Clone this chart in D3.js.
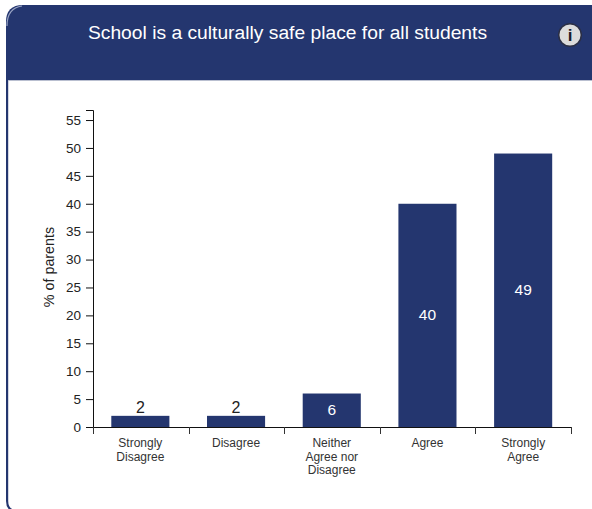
<!DOCTYPE html>
<html><head><meta charset="utf-8">
<script src="https://cdn.jsdelivr.net/npm/d3@7/dist/d3.min.js"></script>
<style>html,body{margin:0;padding:0;background:#fff;overflow:hidden}svg{display:block}text{font-family:"Liberation Sans",Arial,sans-serif}</style>
</head><body><svg id="c" width="592" height="509"></svg>
<script>
const categories=[["Strongly","Disagree"],["Disagree"],["Neither","Agree nor","Disagree"],["Agree"],["Strongly","Agree"]];
const values=[2,2,6,40,49];
const yTicks=[0,5,10,15,20,25,30,35,40,45,50,55];
const title="School is a culturally safe place for all students";
const yLabel="% of parents";
const navy="#24366f";
const svg=d3.select("#c");
svg.append("path").attr("fill","none").attr("stroke",navy).attr("stroke-width",2.2)
 .attr("d","M7.1 20V501Q7.1 509 14 511");
svg.append("path").attr("fill",navy)
 .attr("d","M6 80V22Q6 5 23 5H592V80Z");
svg.append("path").attr("fill","none").attr("stroke","#9aa5c4").attr("stroke-width",1.2).attr("d","M7 26Q7 8 22 6");
svg.append("line").attr("x1",8).attr("x2",592).attr("y1",80.5).attr("y2",80.5).attr("stroke","#b9bfd0").attr("stroke-width",1);
svg.append("text").attr("x",287.5).attr("y",39).attr("text-anchor","middle").attr("font-size",19.25).attr("fill","#fff").text(title);
svg.append("circle").attr("cx",570).attr("cy",35).attr("r",11.3).attr("fill","#dcdcdc").attr("stroke","#2b2f45").attr("stroke-width",1.5);
svg.append("text").attr("x",570).attr("y",41).attr("text-anchor","middle").attr("font-size",17).attr("font-weight","bold").attr("fill","#1b1b2a").text("i");

const x=d3.scaleBand().domain(d3.range(values.length)).range([92.5,571]).paddingInner(0.393).paddingOuter(0.1965);
const y=d3.scaleLinear().domain([0,56.8]).range([427,110]);
const g=svg.append("g");
g.selectAll("rect").data(values).join("rect")
 .attr("x",(d,i)=>x(i)).attr("width",x.bandwidth())
 .attr("y",d=>y(d)).attr("height",d=>y(0)-y(d)).attr("fill",navy);
g.selectAll("text.v").data(values).join("text").attr("class","v")
 .attr("x",(d,i)=>x(i)+x.bandwidth()/2).attr("text-anchor","middle").attr("font-size",d=>d<5?16:15.5)
 .attr("y",d=>d<5?y(d)-3:y(d/2)+4.5)
 .attr("fill",d=>d<5?"#222":"#fff").text(d=>d);
const axY=svg.append("g").attr("transform","translate(93,0)")
 .call(d3.axisLeft(y).tickValues(yTicks).tickSize(7).tickSizeOuter(7));
axY.selectAll("text").attr("font-size",13.5).attr("fill","#222").attr("font-family","'Liberation Sans',Arial,sans-serif").attr("x",-12);
axY.selectAll("line,path").attr("stroke","#111");
const edges=d3.range(values.length+1).map(i=>93+i*(478/values.length));
const ax=svg.append("g");
ax.append("line").attr("x1",93).attr("x2",571).attr("y1",427.5).attr("y2",427.5).attr("stroke","#111");
ax.selectAll("line.t").data(edges).join("line").attr("class","t").attr("x1",d=>Math.round(d)+.5).attr("x2",d=>Math.round(d)+.5).attr("y1",427).attr("y2",434).attr("stroke","#333");
categories.forEach((c,i)=>{
 const t=ax.append("text").attr("text-anchor","middle").attr("font-size",12).attr("fill","#333");
 c.forEach((s,j)=>t.append("tspan").attr("x",x(i)+x.bandwidth()/2).attr("y",447+j*13.7).text(s));
});
svg.append("text").attr("transform","translate(54,267) rotate(-90)").attr("text-anchor","middle").attr("font-size",14.3).attr("fill","#222").text(yLabel);
</script></body></html>
